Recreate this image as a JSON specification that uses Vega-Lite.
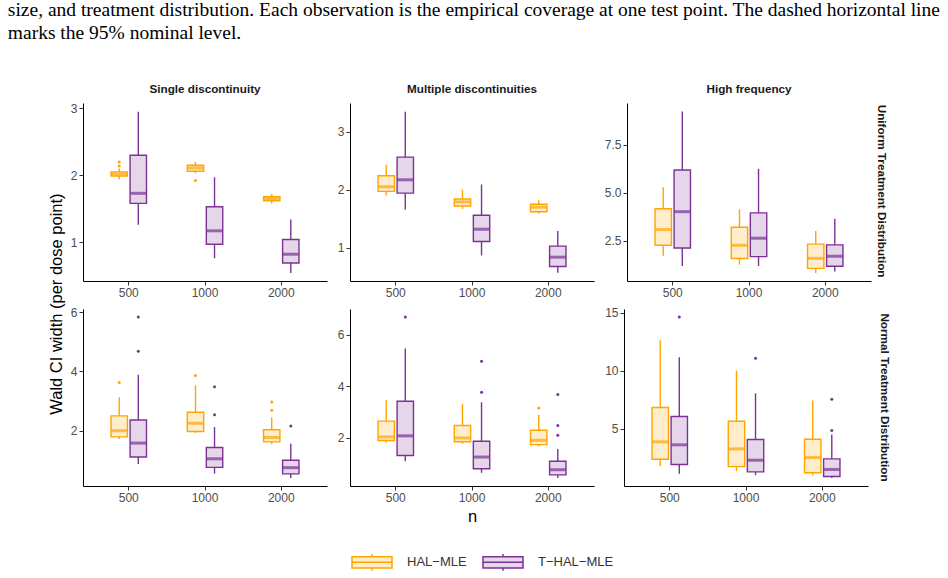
{
  "$schema": "https://vega.github.io/schema/vega-lite/v6.json",
  "padding": {"left": 7, "top": 0, "right": 5, "bottom": 5},
  "background": "white",
  "title": {
    "text": [
      "size, and treatment distribution. Each observation is the empirical coverage at one test point. The dashed horizontal line",
      "marks the 95% nominal level."
    ],
    "anchor": "start",
    "frame": "bounds",
    "dx": -41,
    "offset": 40,
    "font": "Liberation Serif",
    "fontSize": 19.5,
    "fontWeight": "normal",
    "color": "#000000",
    "lineHeight": 23
  },
  "datasets": {
    "w": [
      {"kind": "box", "dist": "U", "fn": "single", "n": "500", "method": "HAL−MLE", "lo": 1.94, "q1": 1.99, "med": 2.02, "q3": 2.05, "hi": 2.10},
      {"kind": "box", "dist": "U", "fn": "single", "n": "500", "method": "T−HAL−MLE", "lo": 1.26, "q1": 1.58, "med": 1.73, "q3": 2.30, "hi": 2.95},
      {"kind": "box", "dist": "U", "fn": "single", "n": "1000", "method": "HAL−MLE", "lo": 2.03, "q1": 2.06, "med": 2.11, "q3": 2.15, "hi": 2.20},
      {"kind": "box", "dist": "U", "fn": "single", "n": "1000", "method": "T−HAL−MLE", "lo": 0.76, "q1": 0.97, "med": 1.17, "q3": 1.53, "hi": 1.97},
      {"kind": "box", "dist": "U", "fn": "single", "n": "2000", "method": "HAL−MLE", "lo": 1.58, "q1": 1.62, "med": 1.65, "q3": 1.68, "hi": 1.72},
      {"kind": "box", "dist": "U", "fn": "single", "n": "2000", "method": "T−HAL−MLE", "lo": 0.54, "q1": 0.69, "med": 0.82, "q3": 1.04, "hi": 1.34},
      {"kind": "out", "dist": "U", "fn": "single", "n": "500", "method": "HAL−MLE", "v": 2.20},
      {"kind": "out", "dist": "U", "fn": "single", "n": "500", "method": "HAL−MLE", "v": 2.14},
      {"kind": "out", "dist": "U", "fn": "single", "n": "1000", "method": "HAL−MLE", "v": 1.92},

      {"kind": "box", "dist": "U", "fn": "multiple", "n": "500", "method": "HAL−MLE", "lo": 1.90, "q1": 1.97, "med": 2.05, "q3": 2.24, "hi": 2.43},
      {"kind": "box", "dist": "U", "fn": "multiple", "n": "500", "method": "T−HAL−MLE", "lo": 1.66, "q1": 1.94, "med": 2.17, "q3": 2.56, "hi": 3.34},
      {"kind": "box", "dist": "U", "fn": "multiple", "n": "1000", "method": "HAL−MLE", "lo": 1.67, "q1": 1.72, "med": 1.79, "q3": 1.84, "hi": 2.00},
      {"kind": "box", "dist": "U", "fn": "multiple", "n": "1000", "method": "T−HAL−MLE", "lo": 0.87, "q1": 1.11, "med": 1.32, "q3": 1.56, "hi": 2.09},
      {"kind": "box", "dist": "U", "fn": "multiple", "n": "2000", "method": "HAL−MLE", "lo": 1.59, "q1": 1.62, "med": 1.70, "q3": 1.75, "hi": 1.82},
      {"kind": "box", "dist": "U", "fn": "multiple", "n": "2000", "method": "T−HAL−MLE", "lo": 0.57, "q1": 0.68, "med": 0.84, "q3": 1.03, "hi": 1.29},

      {"kind": "box", "dist": "U", "fn": "high", "n": "500", "method": "HAL−MLE", "lo": 1.72, "q1": 2.27, "med": 3.09, "q3": 4.17, "hi": 5.29},
      {"kind": "box", "dist": "U", "fn": "high", "n": "500", "method": "T−HAL−MLE", "lo": 1.19, "q1": 2.13, "med": 4.02, "q3": 6.19, "hi": 9.24},
      {"kind": "box", "dist": "U", "fn": "high", "n": "1000", "method": "HAL−MLE", "lo": 1.26, "q1": 1.58, "med": 2.27, "q3": 3.21, "hi": 4.14},
      {"kind": "box", "dist": "U", "fn": "high", "n": "1000", "method": "T−HAL−MLE", "lo": 1.19, "q1": 1.68, "med": 2.64, "q3": 3.96, "hi": 6.25},
      {"kind": "box", "dist": "U", "fn": "high", "n": "2000", "method": "HAL−MLE", "lo": 0.83, "q1": 1.07, "med": 1.59, "q3": 2.33, "hi": 3.02},
      {"kind": "box", "dist": "U", "fn": "high", "n": "2000", "method": "T−HAL−MLE", "lo": 0.90, "q1": 1.18, "med": 1.70, "q3": 2.29, "hi": 3.65},

      {"kind": "box", "dist": "N", "fn": "single", "n": "500", "method": "HAL−MLE", "lo": 1.72, "q1": 1.79, "med": 2.00, "q3": 2.50, "hi": 3.13},
      {"kind": "box", "dist": "N", "fn": "single", "n": "500", "method": "T−HAL−MLE", "lo": 0.87, "q1": 1.11, "med": 1.58, "q3": 2.36, "hi": 3.89},
      {"kind": "box", "dist": "N", "fn": "single", "n": "1000", "method": "HAL−MLE", "lo": 1.92, "q1": 1.97, "med": 2.25, "q3": 2.62, "hi": 3.53},
      {"kind": "box", "dist": "N", "fn": "single", "n": "1000", "method": "T−HAL−MLE", "lo": 0.55, "q1": 0.76, "med": 1.05, "q3": 1.43, "hi": 2.12},
      {"kind": "box", "dist": "N", "fn": "single", "n": "2000", "method": "HAL−MLE", "lo": 1.54, "q1": 1.62, "med": 1.77, "q3": 2.03, "hi": 2.45},
      {"kind": "box", "dist": "N", "fn": "single", "n": "2000", "method": "T−HAL−MLE", "lo": 0.40, "q1": 0.54, "med": 0.75, "q3": 1.00, "hi": 1.56},
      {"kind": "out", "dist": "N", "fn": "single", "n": "500", "method": "HAL−MLE", "v": 3.63},
      {"kind": "out", "dist": "N", "fn": "single", "n": "500", "method": "T−HAL−MLE", "v": 4.68},
      {"kind": "out", "dist": "N", "fn": "single", "n": "500", "method": "T−HAL−MLE", "v": 5.84},
      {"kind": "out", "dist": "N", "fn": "single", "n": "1000", "method": "HAL−MLE", "v": 3.86},
      {"kind": "out", "dist": "N", "fn": "single", "n": "1000", "method": "T−HAL−MLE", "v": 2.54},
      {"kind": "out", "dist": "N", "fn": "single", "n": "1000", "method": "T−HAL−MLE", "v": 3.48},
      {"kind": "out", "dist": "N", "fn": "single", "n": "2000", "method": "HAL−MLE", "v": 2.69},
      {"kind": "out", "dist": "N", "fn": "single", "n": "2000", "method": "HAL−MLE", "v": 2.97},
      {"kind": "out", "dist": "N", "fn": "single", "n": "2000", "method": "T−HAL−MLE", "v": 2.16},

      {"kind": "box", "dist": "N", "fn": "multiple", "n": "500", "method": "HAL−MLE", "lo": 1.81, "q1": 1.90, "med": 2.04, "q3": 2.65, "hi": 3.46},
      {"kind": "box", "dist": "N", "fn": "multiple", "n": "500", "method": "T−HAL−MLE", "lo": 1.10, "q1": 1.32, "med": 2.08, "q3": 3.42, "hi": 5.46},
      {"kind": "box", "dist": "N", "fn": "multiple", "n": "1000", "method": "HAL−MLE", "lo": 1.77, "q1": 1.85, "med": 2.00, "q3": 2.48, "hi": 3.32},
      {"kind": "box", "dist": "N", "fn": "multiple", "n": "1000", "method": "T−HAL−MLE", "lo": 0.65, "q1": 0.81, "med": 1.26, "q3": 1.87, "hi": 3.38},
      {"kind": "box", "dist": "N", "fn": "multiple", "n": "2000", "method": "HAL−MLE", "lo": 1.68, "q1": 1.74, "med": 1.91, "q3": 2.30, "hi": 2.90},
      {"kind": "box", "dist": "N", "fn": "multiple", "n": "2000", "method": "T−HAL−MLE", "lo": 0.45, "q1": 0.57, "med": 0.77, "q3": 1.10, "hi": 1.57},
      {"kind": "out", "dist": "N", "fn": "multiple", "n": "500", "method": "T−HAL−MLE", "v": 6.68},
      {"kind": "out", "dist": "N", "fn": "multiple", "n": "1000", "method": "T−HAL−MLE", "v": 3.77},
      {"kind": "out", "dist": "N", "fn": "multiple", "n": "1000", "method": "T−HAL−MLE", "v": 4.97},
      {"kind": "out", "dist": "N", "fn": "multiple", "n": "2000", "method": "HAL−MLE", "v": 3.16},
      {"kind": "out", "dist": "N", "fn": "multiple", "n": "2000", "method": "T−HAL−MLE", "v": 2.10},
      {"kind": "out", "dist": "N", "fn": "multiple", "n": "2000", "method": "T−HAL−MLE", "v": 2.48},
      {"kind": "out", "dist": "N", "fn": "multiple", "n": "2000", "method": "T−HAL−MLE", "v": 3.68},

      {"kind": "box", "dist": "N", "fn": "high", "n": "500", "method": "HAL−MLE", "lo": 1.74, "q1": 2.35, "med": 3.85, "q3": 6.82, "hi": 12.64},
      {"kind": "box", "dist": "N", "fn": "high", "n": "500", "method": "T−HAL−MLE", "lo": 1.08, "q1": 1.89, "med": 3.59, "q3": 6.04, "hi": 11.17},
      {"kind": "box", "dist": "N", "fn": "high", "n": "1000", "method": "HAL−MLE", "lo": 1.31, "q1": 1.71, "med": 3.24, "q3": 5.63, "hi": 10.01},
      {"kind": "box", "dist": "N", "fn": "high", "n": "1000", "method": "T−HAL−MLE", "lo": 0.97, "q1": 1.25, "med": 2.26, "q3": 4.05, "hi": 8.05},
      {"kind": "box", "dist": "N", "fn": "high", "n": "2000", "method": "HAL−MLE", "lo": 0.94, "q1": 1.17, "med": 2.49, "q3": 4.08, "hi": 7.42},
      {"kind": "box", "dist": "N", "fn": "high", "n": "2000", "method": "T−HAL−MLE", "lo": 0.73, "q1": 0.85, "med": 1.46, "q3": 2.38, "hi": 4.48},
      {"kind": "out", "dist": "N", "fn": "high", "n": "500", "method": "T−HAL−MLE", "v": 14.65},
      {"kind": "out", "dist": "N", "fn": "high", "n": "1000", "method": "T−HAL−MLE", "v": 11.08},
      {"kind": "out", "dist": "N", "fn": "high", "n": "2000", "method": "T−HAL−MLE", "v": 4.83},
      {"kind": "out", "dist": "N", "fn": "high", "n": "2000", "method": "T−HAL−MLE", "v": 7.54}
    ]
  },
  "vconcat": [
    {
      "title": {
        "text": "Wald CI width (per dose point)",
        "orient": "left",
        "anchor": "middle",
        "offset": 5,
        "font": "Liberation Sans",
        "fontSize": 16.5,
        "fontWeight": "normal",
        "color": "#000000"
      },
      "spacing": 8,
      "vconcat": [
        {
          "spacing": 10,
          "hconcat": [
            {
              "width": 244, "height": 178,
              "title": "Single discontinuity",
              "data": {"name": "w"},
              "transform": [{"filter": "datum.dist == 'U' && datum.fn == 'single'"}],
              "encoding": {
                "x": {"field": "n", "type": "nominal", "sort": ["500", "1000", "2000"], "title": null, "scale": {"paddingInner": 0.5, "paddingOuter": 0.35}},
                "xOffset": {"field": "method", "type": "nominal", "scale": {"paddingInner": 0.14, "paddingOuter": 0.07}}
              },
              "layer": [
                {"transform": [{"filter": "datum.kind == 'box'"}], "mark": {"type": "rule", "strokeWidth": 1.4},
                 "encoding": {"y": {"field": "lo", "type": "quantitative", "title": null, "scale": {"domain": [0.42, 3.08], "nice": false, "zero": false}, "axis": {"values": [1, 2, 3], "format": "d"}}, "y2": {"field": "hi"}, "color": {"field": "method", "type": "nominal", "legend": null}}},
                {"transform": [{"filter": "datum.kind == 'box'"}], "mark": {"type": "bar", "strokeWidth": 1.4},
                 "encoding": {"y": {"field": "q1", "type": "quantitative", "title": null}, "y2": {"field": "q3"}, "fill": {"field": "method", "type": "nominal", "title": null, "scale": {"range": ["#FFEDCC", "#E5D6EA"]}}, "stroke": {"field": "method", "type": "nominal", "title": null}}},
                {"transform": [{"filter": "datum.kind == 'box'"}], "mark": {"type": "tick", "thickness": 3, "size": 16},
                 "encoding": {"y": {"field": "med", "type": "quantitative", "title": null}, "color": {"field": "method", "type": "nominal", "legend": null}}},
                {"transform": [{"filter": "datum.kind == 'out'"}], "mark": {"type": "circle", "size": 9, "opacity": 1},
                 "encoding": {"y": {"field": "v", "type": "quantitative", "title": null}, "color": {"field": "method", "type": "nominal", "legend": null}}}
              ]
            },
            {
              "width": 244, "height": 178,
              "title": "Multiple discontinuities",
              "data": {"name": "w"},
              "transform": [{"filter": "datum.dist == 'U' && datum.fn == 'multiple'"}],
              "encoding": {
                "x": {"field": "n", "type": "nominal", "sort": ["500", "1000", "2000"], "title": null, "scale": {"paddingInner": 0.5, "paddingOuter": 0.35}},
                "xOffset": {"field": "method", "type": "nominal", "scale": {"paddingInner": 0.14, "paddingOuter": 0.07}}
              },
              "layer": [
                {"transform": [{"filter": "datum.kind == 'box'"}], "mark": {"type": "rule", "strokeWidth": 1.4},
                 "encoding": {"y": {"field": "lo", "type": "quantitative", "title": null, "scale": {"domain": [0.43, 3.49], "nice": false, "zero": false}, "axis": {"values": [1, 2, 3], "format": "d"}}, "y2": {"field": "hi"}, "color": {"field": "method", "type": "nominal", "legend": null}}},
                {"transform": [{"filter": "datum.kind == 'box'"}], "mark": {"type": "bar", "strokeWidth": 1.4},
                 "encoding": {"y": {"field": "q1", "type": "quantitative", "title": null}, "y2": {"field": "q3"}, "fill": {"field": "method", "type": "nominal", "title": null, "scale": {"range": ["#FFEDCC", "#E5D6EA"]}}, "stroke": {"field": "method", "type": "nominal", "title": null}}},
                {"transform": [{"filter": "datum.kind == 'box'"}], "mark": {"type": "tick", "thickness": 3, "size": 16},
                 "encoding": {"y": {"field": "med", "type": "quantitative", "title": null}, "color": {"field": "method", "type": "nominal", "legend": null}}},
                {"transform": [{"filter": "datum.kind == 'out'"}], "mark": {"type": "circle", "size": 9, "opacity": 1},
                 "encoding": {"y": {"field": "v", "type": "quantitative", "title": null}, "color": {"field": "method", "type": "nominal", "legend": null}}}
              ]
            },
            {
              "title": {"text": "Uniform Treatment Distribution", "orient": "right", "anchor": "middle", "offset": 4},
              "vconcat": [
                {
                  "width": 244, "height": 178,
                  "title": "High frequency",
                  "data": {"name": "w"},
                  "transform": [{"filter": "datum.dist == 'U' && datum.fn == 'high'"}],
                  "encoding": {
                    "x": {"field": "n", "type": "nominal", "sort": ["500", "1000", "2000"], "title": null, "scale": {"paddingInner": 0.5, "paddingOuter": 0.35}},
                    "xOffset": {"field": "method", "type": "nominal", "scale": {"paddingInner": 0.14, "paddingOuter": 0.07}}
                  },
                  "layer": [
                    {"transform": [{"filter": "datum.kind == 'box'"}], "mark": {"type": "rule", "strokeWidth": 1.4},
                     "encoding": {"y": {"field": "lo", "type": "quantitative", "title": null, "scale": {"domain": [0.41, 9.68], "nice": false, "zero": false}, "axis": {"values": [2.5, 5, 7.5], "format": ".1f"}}, "y2": {"field": "hi"}, "color": {"field": "method", "type": "nominal", "legend": null}}},
                    {"transform": [{"filter": "datum.kind == 'box'"}], "mark": {"type": "bar", "strokeWidth": 1.4},
                     "encoding": {"y": {"field": "q1", "type": "quantitative", "title": null}, "y2": {"field": "q3"}, "fill": {"field": "method", "type": "nominal", "title": null, "scale": {"range": ["#FFEDCC", "#E5D6EA"]}}, "stroke": {"field": "method", "type": "nominal", "title": null}}},
                    {"transform": [{"filter": "datum.kind == 'box'"}], "mark": {"type": "tick", "thickness": 3, "size": 16},
                     "encoding": {"y": {"field": "med", "type": "quantitative", "title": null}, "color": {"field": "method", "type": "nominal", "legend": null}}},
                    {"transform": [{"filter": "datum.kind == 'out'"}], "mark": {"type": "circle", "size": 9, "opacity": 1},
                     "encoding": {"y": {"field": "v", "type": "quantitative", "title": null}, "color": {"field": "method", "type": "nominal", "legend": null}}}
                  ]
                }
              ]
            }
          ]
        },
        {
          "spacing": 10,
          "hconcat": [
            {
              "width": 244, "height": 177,
              "data": {"name": "w"},
              "transform": [{"filter": "datum.dist == 'N' && datum.fn == 'single'"}],
              "encoding": {
                "x": {"field": "n", "type": "nominal", "sort": ["500", "1000", "2000"], "title": null, "scale": {"paddingInner": 0.5, "paddingOuter": 0.35}},
                "xOffset": {"field": "method", "type": "nominal", "scale": {"paddingInner": 0.14, "paddingOuter": 0.07}}
              },
              "layer": [
                {"transform": [{"filter": "datum.kind == 'box'"}], "mark": {"type": "rule", "strokeWidth": 1.4},
                 "encoding": {"y": {"field": "lo", "type": "quantitative", "title": null, "scale": {"domain": [0.13, 6.11], "nice": false, "zero": false}, "axis": {"values": [2, 4, 6], "format": "d"}}, "y2": {"field": "hi"}, "color": {"field": "method", "type": "nominal", "legend": null}}},
                {"transform": [{"filter": "datum.kind == 'box'"}], "mark": {"type": "bar", "strokeWidth": 1.4},
                 "encoding": {"y": {"field": "q1", "type": "quantitative", "title": null}, "y2": {"field": "q3"}, "fill": {"field": "method", "type": "nominal", "title": null, "scale": {"range": ["#FFEDCC", "#E5D6EA"]}}, "stroke": {"field": "method", "type": "nominal", "title": null}}},
                {"transform": [{"filter": "datum.kind == 'box'"}], "mark": {"type": "tick", "thickness": 3, "size": 16},
                 "encoding": {"y": {"field": "med", "type": "quantitative", "title": null}, "color": {"field": "method", "type": "nominal", "legend": null}}},
                {"transform": [{"filter": "datum.kind == 'out'"}], "mark": {"type": "circle", "size": 9, "opacity": 1},
                 "encoding": {"y": {"field": "v", "type": "quantitative", "title": null}, "color": {"field": "method", "type": "nominal", "legend": null}}}
              ]
            },
            {
              "width": 244, "height": 177,
              "data": {"name": "w"},
              "transform": [{"filter": "datum.dist == 'N' && datum.fn == 'multiple'"}],
              "encoding": {
                "x": {"field": "n", "type": "nominal", "sort": ["500", "1000", "2000"], "title": "n", "scale": {"paddingInner": 0.5, "paddingOuter": 0.35}},
                "xOffset": {"field": "method", "type": "nominal", "scale": {"paddingInner": 0.14, "paddingOuter": 0.07}}
              },
              "layer": [
                {"transform": [{"filter": "datum.kind == 'box'"}], "mark": {"type": "rule", "strokeWidth": 1.4},
                 "encoding": {"y": {"field": "lo", "type": "quantitative", "title": null, "scale": {"domain": [0.14, 6.99], "nice": false, "zero": false}, "axis": {"values": [2, 4, 6], "format": "d"}}, "y2": {"field": "hi"}, "color": {"field": "method", "type": "nominal", "legend": null}}},
                {"transform": [{"filter": "datum.kind == 'box'"}], "mark": {"type": "bar", "strokeWidth": 1.4},
                 "encoding": {"y": {"field": "q1", "type": "quantitative", "title": null}, "y2": {"field": "q3"}, "fill": {"field": "method", "type": "nominal", "title": null, "scale": {"range": ["#FFEDCC", "#E5D6EA"]}}, "stroke": {"field": "method", "type": "nominal", "title": null}}},
                {"transform": [{"filter": "datum.kind == 'box'"}], "mark": {"type": "tick", "thickness": 3, "size": 16},
                 "encoding": {"y": {"field": "med", "type": "quantitative", "title": null}, "color": {"field": "method", "type": "nominal", "legend": null}}},
                {"transform": [{"filter": "datum.kind == 'out'"}], "mark": {"type": "circle", "size": 9, "opacity": 1},
                 "encoding": {"y": {"field": "v", "type": "quantitative", "title": null}, "color": {"field": "method", "type": "nominal", "legend": null}}}
              ]
            },
            {
              "width": 244, "height": 177,
              "title": {"text": "Normal Treatment Distribution", "orient": "right", "anchor": "middle", "offset": 10},
              "data": {"name": "w"},
              "transform": [{"filter": "datum.dist == 'N' && datum.fn == 'high'"}],
              "encoding": {
                "x": {"field": "n", "type": "nominal", "sort": ["500", "1000", "2000"], "title": null, "scale": {"paddingInner": 0.5, "paddingOuter": 0.35}},
                "xOffset": {"field": "method", "type": "nominal", "scale": {"paddingInner": 0.14, "paddingOuter": 0.07}}
              },
              "layer": [
                {"transform": [{"filter": "datum.kind == 'box'"}], "mark": {"type": "rule", "strokeWidth": 1.4},
                 "encoding": {"y": {"field": "lo", "type": "quantitative", "title": null, "scale": {"domain": [0.03, 15.34], "nice": false, "zero": false}, "axis": {"values": [5, 10, 15], "format": "d"}}, "y2": {"field": "hi"}, "color": {"field": "method", "type": "nominal", "legend": null}}},
                {"transform": [{"filter": "datum.kind == 'box'"}], "mark": {"type": "bar", "strokeWidth": 1.4},
                 "encoding": {"y": {"field": "q1", "type": "quantitative", "title": null}, "y2": {"field": "q3"}, "fill": {"field": "method", "type": "nominal", "title": null, "scale": {"range": ["#FFEDCC", "#E5D6EA"]}}, "stroke": {"field": "method", "type": "nominal", "title": null}}},
                {"transform": [{"filter": "datum.kind == 'box'"}], "mark": {"type": "tick", "thickness": 3, "size": 16},
                 "encoding": {"y": {"field": "med", "type": "quantitative", "title": null}, "color": {"field": "method", "type": "nominal", "legend": null}}},
                {"transform": [{"filter": "datum.kind == 'out'"}], "mark": {"type": "circle", "size": 9, "opacity": 1},
                 "encoding": {"y": {"field": "v", "type": "quantitative", "title": null}, "color": {"field": "method", "type": "nominal", "legend": null}}}
              ]
            }
          ]
        }
      ]
    }
  ],
  "config": {
    "view": {"stroke": null},
    "range": {"category": ["#FFA500", "#7B3294"]},
    "title": {"font": "Liberation Sans", "fontSize": 11.7, "fontWeight": "bold", "color": "#1A1A1A", "offset": 7},
    "axis": {
      "grid": false,
      "domainColor": "#000000",
      "domainWidth": 1,
      "tickColor": "#333333",
      "tickSize": 4,
      "labelFont": "Liberation Sans",
      "labelFontSize": 12,
      "labelColor": "#4D4D4D",
      "labelPadding": 2,
      "labelAngle": 0,
      "titleFont": "Liberation Sans",
      "titleFontSize": 16.5,
      "titleFontWeight": "normal",
      "titleColor": "#000000",
      "titlePadding": 5
    },
    "legend": {
      "orient": "none",
      "legendX": 268,
      "legendY": 438,
      "direction": "horizontal",
      "symbolType": "M-1,-0.28H1V0.28H-1Z M-1,0H1 M0,-0.28V-0.42 M0,0.28V0.42",
      "symbolSize": 1600,
      "symbolStrokeWidth": 1.5,
      "labelFont": "Liberation Sans",
      "labelFontSize": 13,
      "labelColor": "#333333",
      "labelOffset": 14,
      "columnPadding": 13
    }
  }
}
